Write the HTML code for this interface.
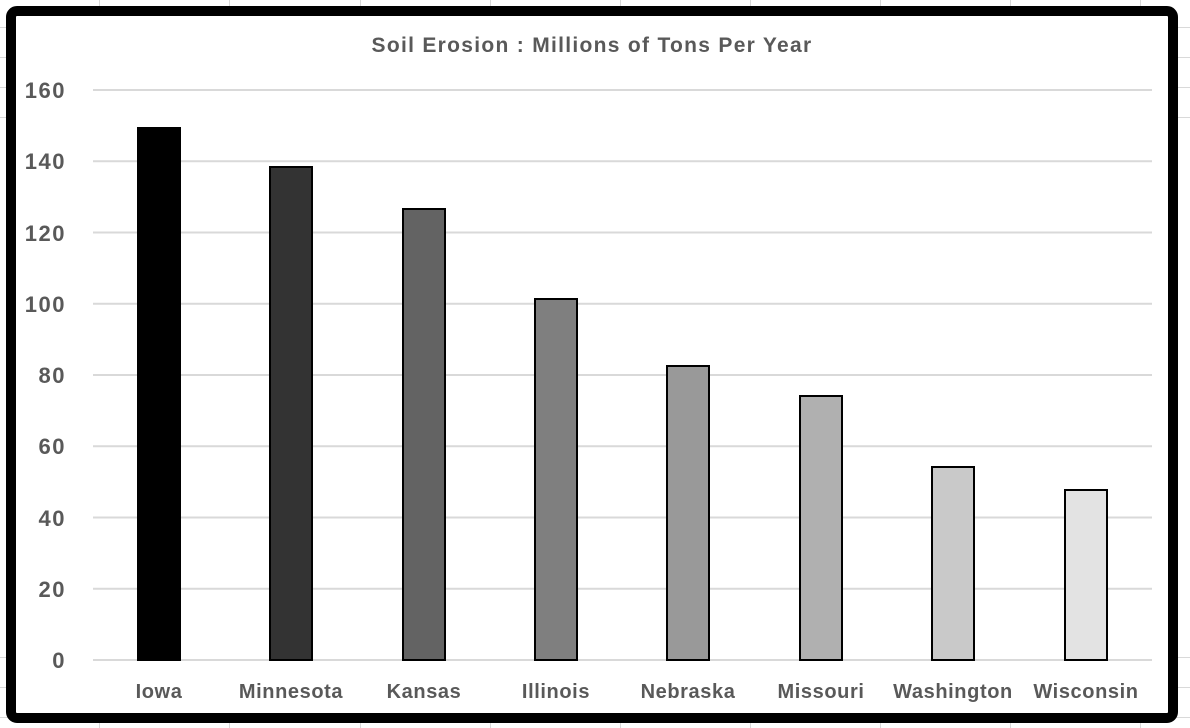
<!DOCTYPE html>
<html><head><meta charset="utf-8"><style>
body{margin:0;width:1190px;height:728px;background:#fff;overflow:hidden;position:relative;font-family:"Liberation Sans",Arial,sans-serif}
</style></head><body>
<svg width="1190" height="728" style="position:absolute;left:0;top:0">
<g stroke="#d9d9d9" stroke-width="1">
<line x1="99.5" y1="0" x2="99.5" y2="728"/><line x1="229.5" y1="0" x2="229.5" y2="728"/>
<line x1="360.5" y1="0" x2="360.5" y2="728"/><line x1="490.5" y1="0" x2="490.5" y2="728"/>
<line x1="620.5" y1="0" x2="620.5" y2="728"/><line x1="750.5" y1="0" x2="750.5" y2="728"/>
<line x1="880.5" y1="0" x2="880.5" y2="728"/><line x1="1010.5" y1="0" x2="1010.5" y2="728"/>
<line x1="1140.5" y1="0" x2="1140.5" y2="728"/>
<line x1="0" y1="27.5" x2="1190" y2="27.5"/><line x1="0" y1="57.5" x2="1190" y2="57.5"/>
<line x1="0" y1="87.5" x2="1190" y2="87.5"/><line x1="0" y1="117.5" x2="1190" y2="117.5"/>
<line x1="0" y1="657.5" x2="1190" y2="657.5"/><line x1="0" y1="687.5" x2="1190" y2="687.5"/>
<line x1="0" y1="717.5" x2="1190" y2="717.5"/>
</g>
<rect x="11" y="11" width="1162" height="707" rx="6" fill="#fff" stroke="#000" stroke-width="10"/>
<g stroke="#d9d9d9" stroke-width="2">
<line x1="93" y1="90" x2="1152" y2="90"/><line x1="93" y1="161.25" x2="1152" y2="161.25"/>
<line x1="93" y1="232.5" x2="1152" y2="232.5"/><line x1="93" y1="303.75" x2="1152" y2="303.75"/>
<line x1="93" y1="375" x2="1152" y2="375"/><line x1="93" y1="446.25" x2="1152" y2="446.25"/>
<line x1="93" y1="517.5" x2="1152" y2="517.5"/><line x1="93" y1="588.75" x2="1152" y2="588.75"/>
<line x1="93" y1="660" x2="1152" y2="660"/>
</g>
<g stroke="#000" stroke-width="2">
<rect x="138" y="128" width="42" height="532" fill="#000"/>
<rect x="270" y="167" width="42" height="493" fill="#333"/>
<rect x="403" y="209" width="42" height="451" fill="#636363"/>
<rect x="535" y="299" width="42" height="361" fill="#7f7f7f"/>
<rect x="667" y="366" width="42" height="294" fill="#999"/>
<rect x="800" y="396" width="42" height="264" fill="#b0b0b0"/>
<rect x="932" y="467" width="42" height="193" fill="#c9c9c9"/>
<rect x="1065" y="490" width="42" height="170" fill="#e3e3e3"/>
</g>
<g fill="#595959" font-weight="bold" font-family="Liberation Sans, Arial, sans-serif">
<text x="592" y="52" text-anchor="middle" font-size="21" letter-spacing="1.3">Soil Erosion : Millions of Tons Per Year</text>
<g text-anchor="end" font-size="22" letter-spacing="1.5">
<text x="66" y="98">160</text><text x="66" y="169">140</text><text x="66" y="241">120</text>
<text x="66" y="312">100</text><text x="66" y="383">80</text><text x="66" y="454">60</text>
<text x="66" y="526">40</text><text x="66" y="597">20</text><text x="66" y="668">0</text>
</g>
<g text-anchor="middle" font-size="20" letter-spacing="0.6">
<text x="159" y="698">Iowa</text><text x="291" y="698">Minnesota</text><text x="424" y="698">Kansas</text>
<text x="556" y="698">Illinois</text><text x="688" y="698">Nebraska</text><text x="821" y="698">Missouri</text>
<text x="953" y="698">Washington</text><text x="1086" y="698">Wisconsin</text>
</g>
</g>
</svg>
</body></html>
